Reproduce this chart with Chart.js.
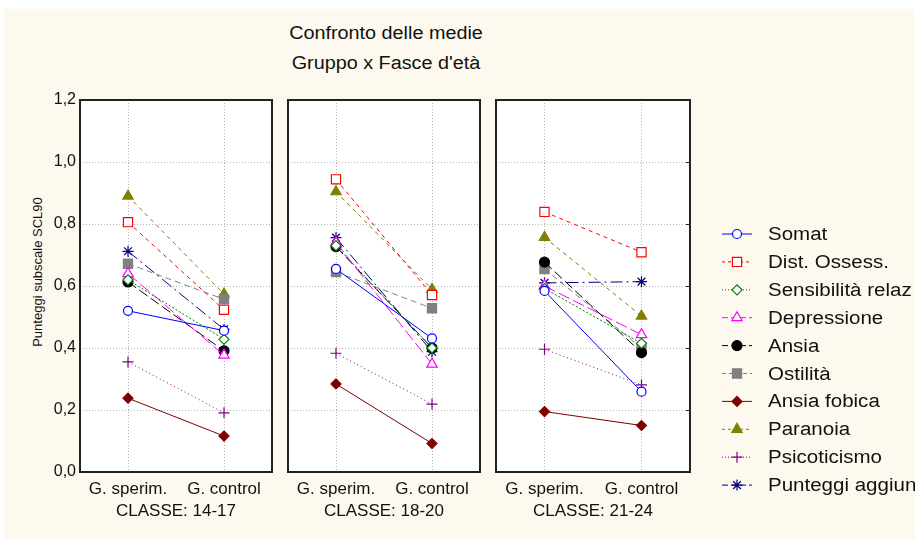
<!DOCTYPE html>
<html>
<head>
<meta charset="utf-8">
<script src="https://cdn.jsdelivr.net/npm/chart.js@4/dist/chart.umd.min.js"></script>
<style>
  body { margin: 0; width: 915px; height: 539px; overflow: hidden; background: #fff; position: relative;
         font-family: "Liberation Sans", Arial, sans-serif; color: #000; }
  #frame { position: absolute; left: 4px; top: 9px; width: 911px; height: 530px; background: #fef9ee; }
  .box { position: absolute; top: 0; height: 539px; }
  #title { position: absolute; left: 236px; width: 300px; top: 18px; text-align: center; font-size: 18px; line-height: 30px;
           transform: scaleX(1.1); color: #111; }
  #ytitle { position: absolute; left: 37px; top: 272px; font-size: 13px; white-space: nowrap;
            transform: translate(-50%, -50%) rotate(-90deg); color: #111; }
  #legendIcons { position: absolute; left: 715px; top: 215px; }
  .lab { position: absolute; left: 768px; font-size: 18px; white-space: nowrap; color: #111;
         transform-origin: 0 50%; transform: translateY(-50%) scaleX(1.14); }
</style>
</head>
<body>
<div id="frame"></div>
<div id="title">Confronto delle medie<br>Gruppo x Fasce d'età</div>
<div id="ytitle">Punteggi subscale SCL90</div>
<div class="box" style="left:0;width:280px"><canvas id="c1" width="280" height="539"></canvas></div>
<div class="box" style="left:280px;width:208px"><canvas id="c2" width="208" height="539"></canvas></div>
<div class="box" style="left:488px;width:214px"><canvas id="c3" width="214" height="539"></canvas></div>
<canvas id="legendIcons" width="60" height="290"></canvas>
<div id="legend"></div>
<script>
const seriesNames = ['Somat', 'Dist. Ossess.', 'Sensibilità relaz', 'Depressione', 'Ansia', 'Ostilità',
  'Ansia fobica', 'Paranoia', 'Psicoticismo', 'Punteggi aggiun'];
const groups = ['G. sperim.', 'G. control'];
const classes = ['CLASSE: 14-17', 'CLASSE: 18-20', 'CLASSE: 21-24'];
const yTickLabels = ['0,0', '0,2', '0,4', '0,6', '0,8', '1,0', '1,2'];

// values per series, same order as seriesNames
const sperim1417 = [0.52, 0.806, 0.62, 0.64, 0.613, 0.672, 0.238, 0.89, 0.355, 0.712];
const control1417 = [0.456, 0.523, 0.428, 0.377, 0.391, 0.557, 0.116, 0.574, 0.191, 0.46];
const sperim1820 = [0.655, 0.944, 0.73, 0.74, 0.727, 0.645, 0.284, 0.904, 0.383, 0.756];
const control1820 = [0.431, 0.571, 0.40, 0.348, 0.40, 0.528, 0.092, 0.589, 0.219, 0.388];
const sperim2124 = [0.584, 0.839, 0.592, 0.60, 0.677, 0.655, 0.195, 0.757, 0.396, 0.61];
const control2124 = [0.259, 0.709, 0.415, 0.443, 0.385, 0.40, 0.15, 0.503, 0.281, 0.614];

const colors = ['#0000ff', '#ff0000', '#008000', '#ff00ff', '#000000', '#808080', '#800000', '#808000', '#800080', '#000080'];
const fills = ['#ffffff', '#ffffff', '#ffffff', '#ffffff', '#000000', '#808080', '#800000', '#808000', '#800080', '#000080'];
const dashes = [[], [4, 4], [2, 2], [12, 4], [10, 4], [6, 4], [], [4, 4], [1, 3], [12, 4, 2, 4]];
const legendDashes = [[], [3, 3], [1, 2], [6, 3], [6, 3], [4, 3], [], [3, 3], [1, 2], [6, 3]];
const markers = ['circle', 'rect', 'rectRot', 'triangle', 'circle', 'rect', 'rectRot', 'triangle', 'cross', 'star'];
const sizes = [4.5, 6.5, 5, 6, 5, 6.5, 5, 6, 5.5, 5.5];

const panelFrame = {
  id: 'panelFrame',
  beforeDraw(chart) {
    const a = chart.chartArea;
    chart.ctx.save();
    chart.ctx.fillStyle = '#ffffff';
    chart.ctx.fillRect(a.left, a.top, a.right - a.left, a.bottom - a.top);
    chart.ctx.restore();
  },
  afterDraw(chart, args, opts) {
    const a = chart.chartArea;
    const ctx = chart.ctx;
    ctx.save();
    ctx.strokeStyle = '#222';
    ctx.lineWidth = 2;
    ctx.strokeRect(a.left, a.top, a.right - a.left, a.bottom - a.top);
    if (opts.rightTicks) {
      // small inward ticks on the right border of the last panel
      const y = chart.scales.y;
      ctx.lineWidth = 1;
      y.ticks.forEach(t => {
        const py = Math.round(y.getPixelForValue(t.value)) + 0.5;
        ctx.beginPath();
        ctx.moveTo(a.right - 4, py);
        ctx.lineTo(a.right, py);
        ctx.stroke();
      });
    }
    ctx.restore();
  }
};

function makePanel(id, sperim, control, classLabel, showY, pad, rightTicks) {
  const datasets = seriesNames.map((name, i) => ({
    label: name,
    data: [sperim[i], control[i]],
    borderColor: colors[i],
    backgroundColor: fills[i],
    borderWidth: 1,
    borderDash: dashes[i],
    pointStyle: markers[i],
    pointRadius: sizes[i],
    pointBorderWidth: 1.2,
    pointBackgroundColor: fills[i],
    pointBorderColor: colors[i],
    tension: 0,
  }));
  new Chart(document.getElementById(id), {
    type: 'line',
    data: { labels: groups, datasets: datasets },
    plugins: [panelFrame],
    options: {
      responsive: false,
      animation: false,
      layout: { padding: pad },
      plugins: {
        legend: { display: false }, tooltip: { enabled: false }, title: { display: false },
        panelFrame: { rightTicks: rightTicks }
      },
      scales: {
        x: {
          offset: true,
          grid: { offset: false, color: '#b4b4b4', drawTicks: false },
          border: { display: false, dash: [1, 2] },
          ticks: { color: '#111', font: { size: 17, family: 'Liberation Sans' }, padding: 7, maxRotation: 0 },
          title: { display: true, text: classLabel, color: '#111', font: { size: 17, family: 'Liberation Sans' },
                   padding: { top: 0, bottom: 17 } },
          afterFit(scale) { scale.height = 67; }
        },
        y: {
          min: 0, max: 1.2,
          grid: { color: '#b4b4b4', drawTicks: false },
          border: { display: false, dash: [1, 2] },
          ticks: {
            display: showY, stepSize: 0.2, padding: 4, color: '#111',
            font: { size: 16, family: 'Liberation Sans' },
            callback: (v, i) => yTickLabels[i]
          },
          afterFit(scale) { scale.width = showY ? 80 : 0; }
        }
      }
    }
  });
}

makePanel('c1', sperim1417, control1417, classes[0], true, { top: 100, right: 8, left: 0, bottom: 0 }, false);
makePanel('c2', sperim1820, control1820, classes[1], false, { top: 100, right: 8, left: 8, bottom: 0 }, false);
makePanel('c3', sperim2124, control2124, classes[2], false, { top: 100, right: 12, left: 8, bottom: 0 }, true);

// legend
const lctx = document.getElementById('legendIcons').getContext('2d');
const legend = document.getElementById('legend');
seriesNames.forEach((name, i) => {
  const cy = 19 + i * 27.9;
  lctx.save();
  lctx.strokeStyle = colors[i];
  lctx.lineWidth = 1;
  lctx.setLineDash(legendDashes[i]);
  lctx.beginPath();
  lctx.moveTo(7, cy);
  lctx.lineTo(37, cy);
  lctx.stroke();
  lctx.setLineDash([]);
  lctx.fillStyle = fills[i];
  lctx.strokeStyle = colors[i];
  lctx.lineWidth = 1.2;
  Chart.helpers.drawPoint(lctx, { pointStyle: markers[i], radius: sizes[i], rotation: 0, borderWidth: 1.2 }, 22, cy);
  lctx.restore();
  const d = document.createElement('div');
  d.className = 'lab';
  d.style.top = (215 + cy) + 'px';
  d.textContent = name;
  legend.appendChild(d);
});
</script>
</body>
</html>
